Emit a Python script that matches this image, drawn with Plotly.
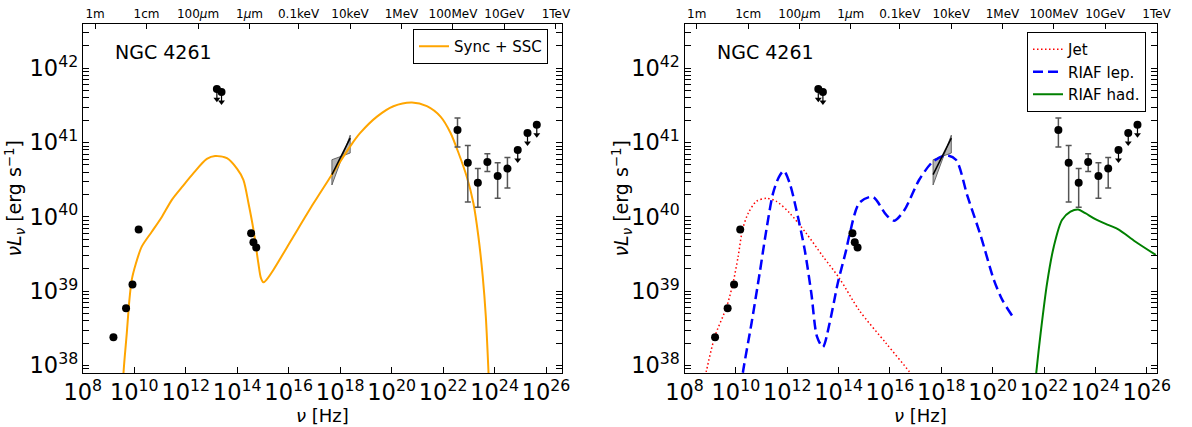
import numpy as np
import plotly.graph_objects as go

# ---------------- data (log10 values) ----------------
# simple detections (radio + optical/IR)
det_lognu = [9.19, 9.68, 9.93, 10.17, 14.54, 14.63, 14.74]
det_logL = [38.38, 38.77, 39.09, 39.83, 39.78, 39.66, 39.59]

# upper limits
ul_lognu = [13.21, 13.39, 24.90, 25.28, 25.64]
ul_logL = [41.72, 41.68, 40.90, 41.13, 41.24]

# gamma-ray points with error bars
gam_lognu = [22.56, 22.96, 23.35, 23.72, 24.12, 24.50]
gam_logL = [41.17, 40.73, 40.46, 40.74, 40.55, 40.65]
gam_logL_hi = [41.33, 40.96, 40.65, 40.85, 40.73, 40.80]
gam_logL_lo = [40.94, 40.20, 40.13, 40.61, 40.25, 40.39]

# X-ray bow tie
xray_lognu = [17.68, 18.39]
xray_logL_mid = [40.57, 41.06]
xray_logL_steep = [40.43, 41.10]
xray_logL_flat = [40.77, 40.86]

# Sync + SSC model (left)
ssc_lognu = [9.55, 9.58, 9.71, 9.81, 9.90, 10.06, 10.29, 10.68, 11.07, 11.46, 11.85,
             12.30, 12.82, 13.14, 13.60, 13.99, 14.24, 14.44, 14.63, 14.82, 14.92,
             15.02, 15.15, 15.41, 16.19, 16.96, 17.68, 18.39, 18.78, 19.43, 20.07,
             20.79, 21.37, 21.90, 22.29, 22.60, 22.92, 23.18, 23.37, 23.54, 23.66,
             23.76, 23.80]
ssc_logL = [37.50, 37.89, 38.44, 38.88, 39.15, 39.37, 39.60, 39.80, 40.00, 40.23, 40.40,
            40.59, 40.78, 40.82, 40.79, 40.65, 40.50, 40.18, 39.83, 39.38, 39.18,
            39.12, 39.16, 39.29, 39.74, 40.18, 40.57, 40.95, 41.13, 41.35, 41.49,
            41.54, 41.49, 41.35, 41.13, 40.86, 40.54, 40.18, 39.74, 39.20, 38.66,
            37.94, 37.60]

# Jet model (right)
jet_lognu = [8.70, 8.86, 9.18, 9.64, 9.89, 10.09, 10.26, 10.48, 10.80, 11.19, 11.58,
             12.10, 12.74, 13.39, 14.04, 14.81, 15.85, 16.75, 17.00]
jet_logL = [37.70, 37.94, 38.39, 38.79, 39.11, 39.47, 39.83, 40.05, 40.21, 40.25, 40.21,
            40.05, 39.78, 39.47, 39.17, 38.74, 38.30, 37.92, 37.80]

# RIAF leptonic model (right)
lep_lognu = [10.20, 10.28, 10.61, 10.93, 11.19, 11.45, 11.68, 11.87, 12.10, 12.36, 12.68,
             12.94, 13.16, 13.39, 13.65, 13.97, 14.30, 14.42, 14.81, 15.33, 15.85,
             16.17, 16.56, 17.14, 17.66, 18.18, 18.57, 19.02, 19.54, 20.05, 20.38, 20.76]
lep_logL = [37.70, 37.92, 38.57, 39.25, 39.83, 40.32, 40.54, 40.62, 40.45, 40.09, 39.56,
            38.97, 38.39, 38.25, 38.57, 39.11, 39.56, 39.75, 40.19, 40.27, 40.03,
            39.95, 40.09, 40.50, 40.74, 40.83, 40.77, 40.28, 39.74, 39.15, 38.88, 38.67]

# RIAF hadronic model (right)
had_lognu = [21.65, 21.70, 21.87, 22.12, 22.38, 22.70, 23.03, 23.33, 23.61, 24.00,
             24.52, 24.91, 25.55, 26.35]
had_logL = [37.70, 37.91, 38.44, 39.11, 39.60, 39.96, 40.07, 40.10, 40.05, 39.97,
            39.89, 39.83, 39.67, 39.49]

# top axis labels
wave_labels = ["1m", "1cm", "100<i>μ</i>m", "1<i>μ</i>m"]
wave_m = [1.0, 1e-2, 1e-4, 1e-6]
energy_labels = ["0.1keV", "10keV", "1MeV", "100MeV", "10GeV", "1TeV"]
energy_eV = [1e2, 1e4, 1e6, 1e8, 1e10, 1e12]

# ---------------- helpers ----------------
P = lambda a: 10.0 ** np.asarray(a, dtype=float)
C_LIGHT = 2.998e8
H_EV = 4.1357e-15
top_vals = [np.log10(C_LIGHT / w) for w in wave_m] + [np.log10(e / H_EV) for e in energy_eV]
top_text = wave_labels + energy_labels

FONT = "DejaVu Sans"
W, H = 1192, 427
panels = [
    dict(x="x", y="y", xt="x3", dom=[82.8 / W, 562 / W], xr=[8, 26.62]),
    dict(x="x2", y="y2", xt="x4", dom=[684.5 / W, 1157 / W], xr=[8, 26.40]),
]
ydom = [1 - 373 / H, 1 - 24 / H]
yr = [37.90, 42.596]

fig = go.Figure()


def add_data(xa, ya):
    # bow tie
    n0, n1 = xray_lognu
    s0, s1 = xray_logL_steep
    f0, f1 = xray_logL_flat
    t = (f0 - s0) / ((s1 - s0) - (f1 - f0))
    npv = n0 + t * (n1 - n0)
    lpv = f0 + t * (f1 - f0)
    fig.add_trace(go.Scatter(
        x=P([n0, npv, n1, n1, npv, n0, n0]), y=P([f0, lpv, s1, f1, lpv, s0, f0]),
        fill="toself", fillcolor="rgba(140,140,140,0.65)", mode="lines",
        line=dict(color="rgba(90,90,90,0.9)", width=1), xaxis=xa, yaxis=ya,
        showlegend=False, hoverinfo="skip"))


def add_points(xa, ya):
    fig.add_trace(go.Scatter(
        x=P(xray_lognu), y=P(xray_logL_mid), mode="lines",
        line=dict(color="black", width=1.5), xaxis=xa, yaxis=ya,
        showlegend=False, hoverinfo="skip"))
    fig.add_trace(go.Scatter(
        x=P(det_lognu), y=P(det_logL), mode="markers",
        marker=dict(color="black", size=8), xaxis=xa, yaxis=ya, showlegend=False))
    g = P(gam_logL)
    fig.add_trace(go.Scatter(
        x=P(gam_lognu), y=g, mode="markers",
        marker=dict(color="black", size=8),
        error_y=dict(type="data", symmetric=False, array=P(gam_logL_hi) - g,
                     arrayminus=g - P(gam_logL_lo), color="#555555", thickness=1.5, width=3),
        xaxis=xa, yaxis=ya, showlegend=False))
    u = P(ul_logL)
    fig.add_trace(go.Scatter(
        x=P(ul_lognu), y=u, mode="markers",
        marker=dict(color="black", size=8),
        error_y=dict(type="data", symmetric=False, array=np.zeros(len(u)),
                     arrayminus=u - u * 10 ** -0.12, color="black", thickness=1.2, width=0),
        xaxis=xa, yaxis=ya, showlegend=False))
    fig.add_trace(go.Scatter(
        x=P(ul_lognu), y=u * 10 ** -0.135, mode="markers",
        marker=dict(color="black", size=6, symbol="triangle-down"),
        xaxis=xa, yaxis=ya, showlegend=False, hoverinfo="skip"))


# left panel
add_data("x", "y")
fig.add_trace(go.Scatter(x=P(ssc_lognu), y=P(ssc_logL), mode="lines", name="Sync + SSC",
                         line=dict(color="#FFA500", width=2, shape="spline", smoothing=0.8),
                         xaxis="x", yaxis="y", legend="legend"))
add_points("x", "y")

# right panel
add_data("x2", "y2")
fig.add_trace(go.Scatter(x=P(jet_lognu), y=P(jet_logL), mode="lines", name="Jet",
                         line=dict(color="red", width=1.5, dash="1.5px,2.5px", shape="spline", smoothing=0.8),
                         xaxis="x2", yaxis="y2", legend="legend2"))
fig.add_trace(go.Scatter(x=P(lep_lognu), y=P(lep_logL), mode="lines", name="RIAF lep.",
                         line=dict(color="blue", width=2.5, dash="10px,5px", shape="spline", smoothing=0.8),
                         xaxis="x2", yaxis="y2", legend="legend2"))
fig.add_trace(go.Scatter(x=P(had_lognu), y=P(had_logL), mode="lines", name="RIAF had.",
                         line=dict(color="green", width=2, shape="spline", smoothing=0.8),
                         xaxis="x2", yaxis="y2", legend="legend2"))
add_points("x2", "y2")

# invisible traces for the top axes
for p in panels:
    fig.add_trace(go.Scatter(x=[10], y=[P(40)], mode="markers", marker=dict(opacity=0),
                             xaxis=p["xt"], yaxis=p["y"], showlegend=False, hoverinfo="skip"))

layout = dict(
    width=W, height=H, margin=dict(l=0, r=0, t=0, b=0, autoexpand=False),
    paper_bgcolor="white", plot_bgcolor="white",
    font=dict(family=FONT, color="black"),
    legend=dict(x=413 / W, y=1 - 29 / H, xanchor="left", yanchor="top",
                bordercolor="black", borderwidth=1, bgcolor="white",
                font=dict(size=15, family=FONT)),
    legend2=dict(x=1027 / W, y=1 - 32 / H, xanchor="left", yanchor="top",
                 bordercolor="black", borderwidth=1, bgcolor="white",
                 font=dict(size=15, family=FONT)),
    annotations=[],
)

for i, p in enumerate(panels):
    xs = "xaxis" if i == 0 else "xaxis2"
    ys = "yaxis" if i == 0 else "yaxis2"
    ts = "xaxis3" if i == 0 else "xaxis4"
    layout[xs] = dict(type="log", range=p["xr"], domain=p["dom"], anchor=p["y"],
                      dtick=2, tick0=0, exponentformat="power", tickangle=0, automargin=False,
                      showline=True, mirror=True, linecolor="black", linewidth=1,
                      ticks="inside", ticklen=6, tickcolor="black",
                      tickfont=dict(size=18, family=FONT), showgrid=False, zeroline=False)
    layout[ys] = dict(type="log", range=yr, domain=ydom, anchor=p["x"],
                      dtick=1, exponentformat="power", tickangle=0, automargin=False,
                      showline=True, mirror="allticks", linecolor="black", linewidth=1,
                      ticks="inside", ticklen=6, tickcolor="black",
                      minor=dict(ticks="inside", ticklen=3, tickcolor="black", showgrid=False),
                      tickfont=dict(size=18, family=FONT), showgrid=False, zeroline=False)
    layout[ts] = dict(type="linear", range=p["xr"], overlaying=p["x"], anchor=p["y"], side="top",
                      tickvals=top_vals, ticktext=top_text, tickangle=0, automargin=False,
                      ticks="inside", ticklen=5, tickcolor="black", ticklabelstandoff=3,
                      tickfont=dict(size=12, family=FONT), showgrid=False, zeroline=False,
                      showline=False)
    cx = (p["dom"][0] + p["dom"][1]) / 2
    layout["annotations"] += [
        dict(text="NGC 4261", x=p["dom"][0] + 30 / W, y=1 - 52 / H, xref="paper", yref="paper",
             xanchor="left", yanchor="middle", showarrow=False, font=dict(size=19, family=FONT)),
        dict(text="<i>ν</i> [Hz]", x=cx, y=1 - 415 / H, xref="paper", yref="paper",
             xanchor="center", yanchor="middle", showarrow=False, font=dict(size=18, family=FONT)),
        dict(text="<i>ν</i><i>L</i><sub><i>ν</i></sub> [erg s<sup>−1</sup>]",
             x=(15 if i == 0 else 622) / W, y=(ydom[0] + ydom[1]) / 2, xref="paper", yref="paper",
             xanchor="center", yanchor="middle", textangle=-90, showarrow=False,
             font=dict(size=19, family=FONT)),
    ]

fig.update_layout(**layout)
fig.write_html("out.html")
